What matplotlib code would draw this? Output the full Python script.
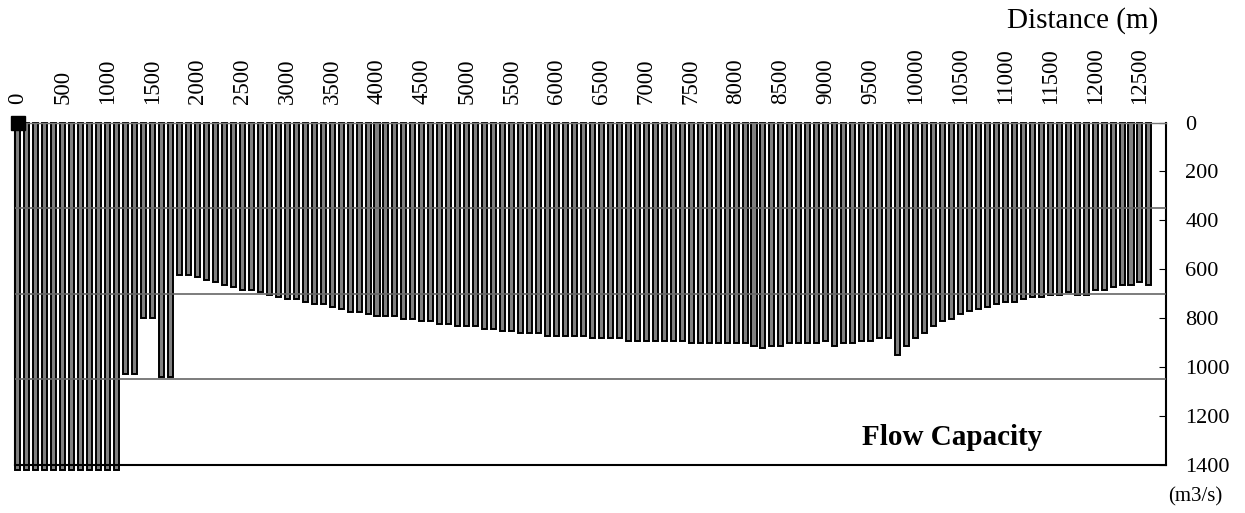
import matplotlib
matplotlib.use("Agg")
import matplotlib.pyplot as plt

plt.rcParams['font.family'] = ['Liberation Serif', 'DejaVu Serif']

# distance along the channel (m), one bar every 100 m
distance = list(range(0, 12700, 100))

# flow capacity (m3/s)
capacity = [
    1420, 1420, 1420, 1420, 1420, 1420, 1420, 1420, 1420, 1420, 1420, 1420,
    1030, 1030, 800, 800, 1040, 1040,
    622, 622, 633, 643, 652, 663, 674, 684, 684, 693,
    704, 714, 722, 722, 734, 742, 742, 753, 763, 773,
    773, 783, 792, 792, 792, 802, 802, 813, 813, 822,
    822, 833, 833, 833, 843, 843, 852, 852, 862, 862,
    862, 871, 871, 871, 871, 871, 882, 882, 882, 882,
    892, 892, 892, 892,
    892, 892, 892, 903, 903, 903, 903, 903, 903, 903,
    912, 922, 912, 912, 903, 903, 903, 903, 892, 912,
    903, 903, 892, 892, 881, 881, 952, 912, 881, 862,
    833, 813, 802, 783, 772, 763, 753, 742, 734, 734,
    722, 714, 714, 704, 704, 693, 704, 704, 684, 684,
    674, 663, 663, 652, 663,
]

x_ticks = list(range(0, 13000, 500))
y_ticks = list(range(0, 1600, 200))
ref_lines = [350, 700, 1050]


def main():
    fig = plt.figure(figsize=(12.45, 5.13), dpi=100)
    ax = fig.add_axes([0.01205, 0.0936, 0.9245, 0.6676])

    ax.bar(distance, capacity, width=56, color='#808080', edgecolor='black',
           linewidth=1.4, clip_on=False, zorder=2)
    ax.plot([0], [0], marker='s', ms=10, color='black', clip_on=False, zorder=5)

    for y in ref_lines:
        ax.axhline(y, color='#666666', lw=1.2, zorder=3)

    ax.set_xlim(-33, 12790)
    ax.set_ylim(1400, 0)

    ax.xaxis.tick_top()
    ax.set_xticks(x_ticks)
    ax.set_xticklabels([str(t) for t in x_ticks])
    ax.tick_params(axis='x', length=0, pad=13, labelrotation=90, labelsize=16.5)

    ax.yaxis.tick_right()
    ax.set_yticks(y_ticks)
    ax.set_yticklabels([str(t) for t in y_ticks])
    ax.tick_params(axis='y', direction='in', length=5, width=0.8, pad=14, labelsize=16)

    ax.spines['top'].set_color('#777777')
    ax.spines['top'].set_linewidth(1.0)
    for side in ['left', 'right', 'bottom']:
        ax.spines[side].set_color('black')
        ax.spines[side].set_linewidth(1.5)

    ax.text(10405, 1288, 'Flow Capacity', ha='center', va='center',
            fontsize=21, fontweight='bold')

    fig.text(1158 / 1245, 1 - 28 / 513, 'Distance (m)', ha='right', va='baseline', fontsize=21)
    fig.text(1195 / 1245, 1 - 497 / 513, '(m3/s)', ha='center', va='center', fontsize=15)

    fig.savefig("out.png", dpi=100)


if __name__ == "__main__":
    main()
